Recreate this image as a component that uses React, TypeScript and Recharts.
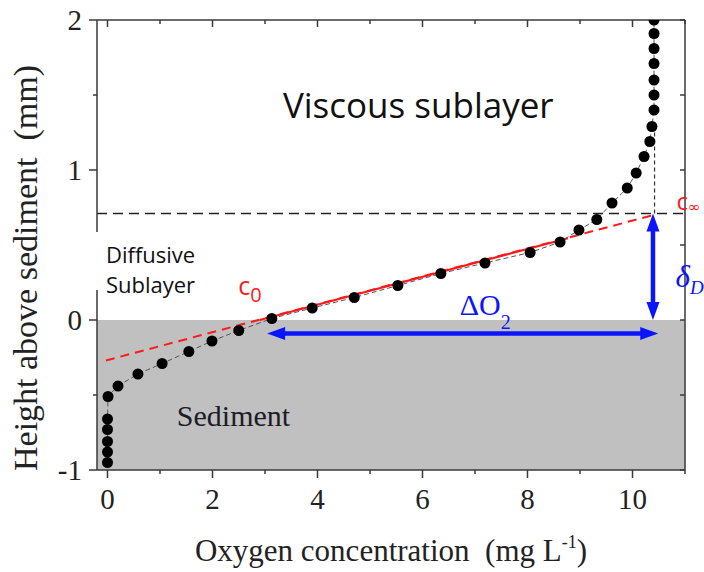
import React from 'react';
import {
  ComposedChart,
  XAxis,
  YAxis,
  Line,
  ReferenceArea,
  ReferenceLine,
  ReferenceDot,
} from 'recharts';

// Measured O2 profile (mg L-1) vs height above sediment (mm)
const oxygen = [
  0, 0, 0, 0, 0, 0.01, 0.2, 0.58, 1.04, 1.55, 1.99, 2.5, 3.13, 3.9, 4.7, 5.53,
  6.35, 7.19, 8.05, 8.62, 8.98, 9.32, 9.61, 9.9, 10.07, 10.22, 10.33, 10.37,
  10.41, 10.41, 10.41, 10.41, 10.41, 10.41, 10.41,
];
const height = [
  -0.95, -0.88, -0.81, -0.73, -0.66, -0.51, -0.44, -0.36, -0.29, -0.21, -0.14,
  -0.07, 0.01, 0.08, 0.15, 0.23, 0.31, 0.38, 0.45, 0.52, 0.6, 0.67, 0.78, 0.88,
  0.98, 1.09, 1.19, 1.29, 1.4, 1.5, 1.6, 1.71, 1.81, 1.91, 2.0,
];
const profile = oxygen.map((x, i) => ({ x, y: height[i] }));

// Linear fit through the diffusive sublayer
const fitExtended = [
  { x: -0.03, y: -0.27 },
  { x: 10.4, y: 0.7 },
];
const fitSolid = [
  { x: 2.9, y: 0.0 },
  { x: 8.77, y: 0.545 },
];

// Boundary-layer annotations
const dblThickness = 0.71; // top of the diffusive boundary layer (mm)
const cInfinity = 10.42; // bulk O2 concentration
const deltaO2Arrow = [
  { x: 3.04, y: -0.09 },
  { x: 10.49, y: -0.09 },
];
const deltaDArrow = [
  { x: 10.39, y: 0.0 },
  { x: 10.39, y: 0.71 },
];
const verticalGuide = [
  { x: 10.42, y: 0.71 },
  { x: 10.42, y: 1.27 },
];

const xTicks = [0, 1, 2, 3, 4, 5, 6, 7, 8, 9, 10, 11];
const yTicks = [-1, -0.5, 0, 0.5, 1, 1.5, 2];

const AXIS = '#3a3a3a';
const SERIF = '"Liberation Serif", "Times New Roman", serif';
const SANS = '"Open Sans", "Noto Sans", sans-serif';
const RED = '#ff1a1a';
const BLUE = '#0a14ff';
const TEXT = '#222';

const isMajorX = (v: number) => Math.abs(v % 2) < 1e-9;
const isMajorY = (v: number) => Math.abs(v - Math.round(v)) < 1e-9;

const BottomTick = (p: any) => {
  const { x, y, payload } = p;
  const v = payload.value;
  const major = isMajorX(v);
  return (
    <g>
      <line x1={x} x2={x} y1={y} y2={y + (major ? 8 : 4)} stroke={AXIS} strokeWidth={1.5} />
      {major && (
        <text x={x} y={y + 39} textAnchor="middle" fontFamily={SERIF} fontSize={29} fill={TEXT}>
          {v}
        </text>
      )}
    </g>
  );
};

const TopTick = (p: any) => {
  const { x, y, payload } = p;
  const major = isMajorX(payload.value);
  return <line x1={x} x2={x} y1={y} y2={y + (major ? 7 : 4)} stroke={AXIS} strokeWidth={1.5} />;
};

const LeftTick = (p: any) => {
  const { x, y, payload } = p;
  const v = payload.value;
  if (v === 0.5) return <g />;
  const major = isMajorY(v);
  return (
    <g>
      <line x1={x} x2={x - (major ? 8 : 4)} y1={y} y2={y} stroke={AXIS} strokeWidth={1.5} />
      {major && (
        <text x={x - 15} y={y + 10} textAnchor="end" fontFamily={SERIF} fontSize={29} fill={TEXT}>
          {v}
        </text>
      )}
    </g>
  );
};

const RightTick = (p: any) => {
  const { x, y } = p;
  return <line x1={x} x2={x - 5} y1={y} y2={y} stroke={AXIS} strokeWidth={1.5} />;
};

const XTitle = (p: any) => {
  const vb = p.viewBox || { x: 97, y: 470, width: 588 };
  const cx = vb.x + vb.width / 2;
  return (
    <text x={cx} y={vb.y + 91} textAnchor="middle" fontFamily={SERIF} fontSize={31} fill={TEXT}>
      Oxygen concentration{'\u00a0\u00a0'}(mg L
      <tspan fontSize={18} dy={-13}>-1</tspan>
      <tspan dy={13}>)</tspan>
    </text>
  );
};

const YTitle = () => {
  const cx = 37;
  const cy = 268;
  return (
    <text
      x={cx}
      y={cy}
      transform={`rotate(-90 ${cx} ${cy})`}
      textAnchor="middle"
      fontFamily={SERIF}
      fontSize={34}
      fill={TEXT}
    >
      Height above sediment{'\u00a0\u00a0'}(mm)
    </text>
  );
};

const DoubleArrow = (p: any) => {
  const { x1, y1, x2, y2 } = p;
  const dx = x2 - x1;
  const dy = y2 - y1;
  const len = Math.hypot(dx, dy) || 1;
  const ux = dx / len;
  const uy = dy / len;
  const px = -uy;
  const py = ux;
  const H = 18;
  const W = 6.5;
  const head = (tx: number, ty: number, dx1: number, dy1: number) => {
    const bx = tx - dx1 * H;
    const by = ty - dy1 * H;
    return `${tx},${ty} ${bx + px * W},${by + py * W} ${bx - px * W},${by - py * W}`;
  };
  return (
    <g>
      <line
        x1={x1 + ux * (H - 2)}
        y1={y1 + uy * (H - 2)}
        x2={x2 - ux * (H - 2)}
        y2={y2 - uy * (H - 2)}
        stroke={BLUE}
        strokeWidth={4.5}
      />
      <polygon points={head(x2, y2, ux, uy)} fill={BLUE} />
      <polygon points={head(x1, y1, -ux, -uy)} fill={BLUE} />
    </g>
  );
};

const ProfileDot = (p: any) => (
  <circle key={`d${p.index}`} cx={p.cx} cy={p.cy} r={5.5} fill="#000" />
);

const ids = { xAxisId: 'b', yAxisId: 'l' } as const;

export default function App() {
  return (
    <div style={{ position: 'absolute', left: 0, top: 0, width: 704, height: 572, background: '#fff' }}>
      <ComposedChart width={704} height={572} margin={{ top: 0, right: 0, bottom: 0, left: 0 }}>
        <XAxis
          xAxisId="b"
          dataKey="x"
          type="number"
          domain={[-0.2, 11]}
          allowDataOverflow
          ticks={xTicks}
          interval={0}
          height={102}
          tickSize={0}
          tickMargin={0}
          tickLine={false}
          tick={<BottomTick />}
          axisLine={{ stroke: AXIS, strokeWidth: 1.5 }}
          label={<XTitle />}
        />
        <XAxis
          xAxisId="t"
          orientation="top"
          dataKey="x"
          type="number"
          domain={[-0.2, 11]}
          allowDataOverflow
          ticks={xTicks}
          interval={0}
          height={20}
          tickSize={0}
          tickMargin={0}
          tickLine={false}
          tick={<TopTick />}
          axisLine={{ stroke: AXIS, strokeWidth: 1.5 }}
        />
        <YAxis
          yAxisId="l"
          type="number"
          domain={[-1, 2]}
          allowDataOverflow
          ticks={yTicks}
          interval={0}
          width={97}
          tickSize={0}
          tickMargin={0}
          tickLine={false}
          tick={<LeftTick />}
          axisLine={{ stroke: AXIS, strokeWidth: 1.5, strokeDasharray: '212 58 400' }}
          label={<YTitle />}
        />
        <YAxis
          yAxisId="r"
          orientation="right"
          type="number"
          domain={[-1, 2]}
          allowDataOverflow
          ticks={yTicks}
          interval={0}
          width={19}
          tickSize={0}
          tickMargin={0}
          tickLine={false}
          tick={<RightTick />}
          axisLine={{ stroke: AXIS, strokeWidth: 1.5 }}
        />

        <ReferenceArea {...ids} y1={-1} y2={0} fill="#c0c0c0" fillOpacity={1} stroke="none" ifOverflow="visible" />

        <ReferenceLine {...ids} y={dblThickness} stroke="#222" strokeWidth={1.3} strokeDasharray="10 6" />
        <ReferenceLine
          {...ids}
          segment={verticalGuide}
          stroke="#333"
          strokeWidth={1.2}
          strokeDasharray="4 3"
          ifOverflow="visible"
        />

        <Line
          {...ids}
          data={fitExtended}
          dataKey="y"
          stroke={RED}
          strokeWidth={2}
          strokeDasharray="9 6"
          dot={false}
          activeDot={false}
          isAnimationActive={false}
        />
        <Line
          {...ids}
          data={fitSolid}
          dataKey="y"
          stroke={RED}
          strokeWidth={2.2}
          dot={false}
          activeDot={false}
          isAnimationActive={false}
        />
        <Line
          {...ids}
          data={profile}
          dataKey="y"
          stroke="#555"
          strokeWidth={1}
          strokeDasharray="5 3"
          dot={ProfileDot}
          activeDot={false}
          isAnimationActive={false}
        />

        <ReferenceLine {...ids} segment={deltaO2Arrow} shape={DoubleArrow} ifOverflow="visible" />
        <ReferenceLine {...ids} segment={deltaDArrow} shape={DoubleArrow} ifOverflow="visible" />

        <ReferenceDot
          {...ids}
          x={5.92}
          y={1.347}
          ifOverflow="visible"
          shape={(p: any) => (
            <text x={p.cx} y={p.cy} textAnchor="middle" fontFamily={SANS} fontSize={35} fill="#111">
              Viscous sublayer
            </text>
          )}
        />
        <ReferenceDot
          {...ids}
          x={-0.03}
          y={0.38}
          ifOverflow="visible"
          shape={(p: any) => (
            <text x={p.cx} y={p.cy} fontFamily={SANS} fontSize={22} fill="#111">
              Diffusive
              <tspan x={p.cx} dy={30}>
                Sublayer
              </tspan>
            </text>
          )}
        />
        <ReferenceDot
          {...ids}
          x={2.49}
          y={0.167}
          ifOverflow="visible"
          shape={(p: any) => (
            <text x={p.cx} y={p.cy} fontFamily={SANS} fontSize={25} fill={RED}>
              c<tspan fontSize={20} dy={7}>0</tspan>
            </text>
          )}
        />
        <ReferenceDot
          {...ids}
          x={cInfinity + 0.42}
          y={0.733}
          ifOverflow="visible"
          shape={(p: any) => (
            <text x={p.cx} y={p.cy} fontFamily={SANS} fontSize={24} fill={RED}>
              c<tspan fontSize={15} dy={2} fontFamily='"DejaVu Sans", sans-serif'>∞</tspan>
            </text>
          )}
        />
        <ReferenceDot
          {...ids}
          x={6.71}
          y={0.033}
          ifOverflow="visible"
          shape={(p: any) => (
            <text x={p.cx} y={p.cy} fontFamily={SERIF} fontSize={30} fill={BLUE}>
              ΔO<tspan fontSize={20} dy={14}>2</tspan>
            </text>
          )}
        />
        <ReferenceDot
          {...ids}
          x={10.82}
          y={0.22}
          ifOverflow="visible"
          shape={(p: any) => (
            <text x={p.cx} y={p.cy} fontFamily={SERIF} fontStyle="italic" fontSize={31} fill={BLUE}>
              δ<tspan fontSize={19} dy={7}>D</tspan>
            </text>
          )}
        />
        <ReferenceDot
          {...ids}
          x={1.32}
          y={-0.707}
          ifOverflow="visible"
          shape={(p: any) => (
            <text x={p.cx} y={p.cy} fontFamily={SERIF} fontSize={30} fill="#1c1c28">
              Sediment
            </text>
          )}
        />
      </ComposedChart>
    </div>
  );
}
